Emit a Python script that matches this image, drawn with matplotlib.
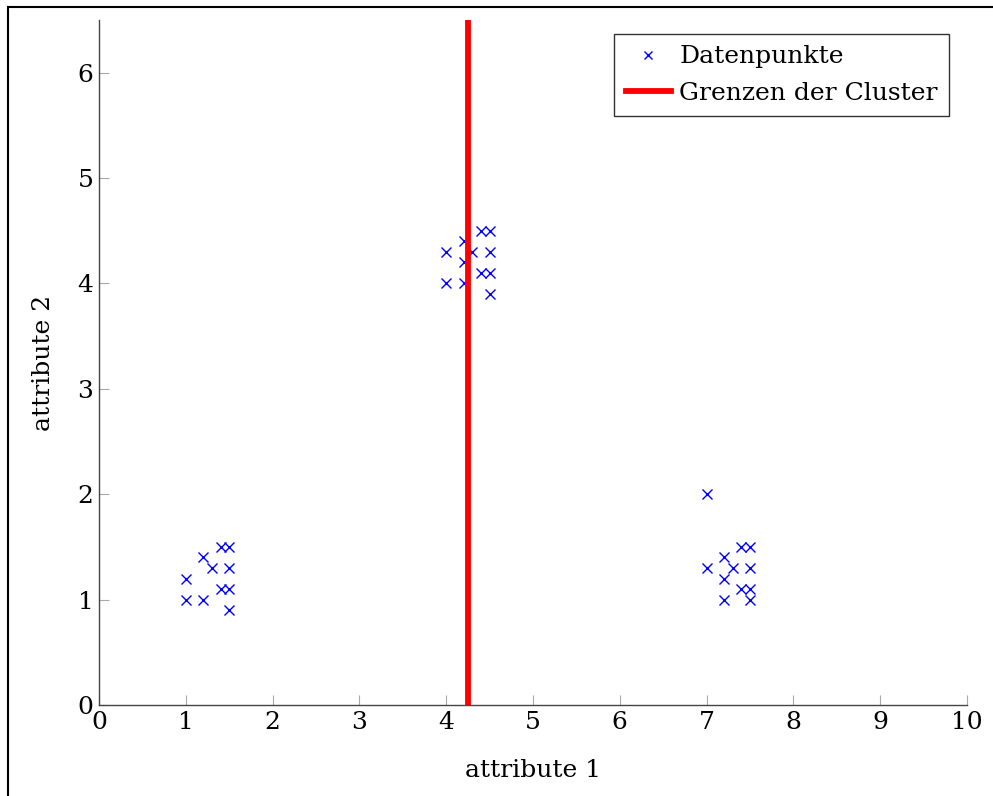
import matplotlib
matplotlib.use("Agg")
import matplotlib.pyplot as plt
from matplotlib.lines import Line2D

# data points of the three groups
attr1 = [1.0, 1.0, 1.2, 1.2, 1.3, 1.4, 1.5, 1.4, 1.5, 1.5, 1.5,
         4.4, 4.5, 4.2, 4.0, 4.3, 4.5, 4.2, 4.4, 4.5, 4.0, 4.2, 4.5,
         7.0, 7.4, 7.5, 7.2, 7.0, 7.3, 7.5, 7.2, 7.4, 7.5, 7.2, 7.5]
attr2 = [1.2, 1.0, 1.4, 1.0, 1.3, 1.5, 1.5, 1.1, 1.1, 1.3, 0.9,
         4.5, 4.5, 4.4, 4.3, 4.3, 4.3, 4.2, 4.1, 4.1, 4.0, 4.0, 3.9,
         2.0, 1.5, 1.5, 1.4, 1.3, 1.3, 1.3, 1.2, 1.1, 1.1, 1.0, 1.0]

# cluster boundary
boundary_x = 4.25

plt.rcParams['font.family'] = ['DejaVu Serif']
plt.rcParams['font.size'] = 18

fig = plt.figure(figsize=(9.93, 7.96), dpi=100)
ax = fig.add_axes([99/993, 1-705/796, (967-99)/993, (705-20)/796])

ax.plot(attr1, attr2, 'x', color='blue', markersize=7.5, markeredgewidth=1.0,
        label='Datenpunkte')
ax.plot([boundary_x, boundary_x], [0, 6.5], color='red', linewidth=4.2,
        label='Grenzen der Cluster')

ax.set_xlim(0, 10)
ax.set_ylim(0, 6.5)
ax.set_xticks(range(0, 11))
ax.set_yticks(range(0, 7))

for side in ['top', 'right']:
    ax.spines[side].set_visible(False)
for side in ['left', 'bottom']:
    ax.spines[side].set_color('#444444')
    ax.spines[side].set_linewidth(1.0)

ax.tick_params(direction='in', length=7, color='#aaaaaa', width=0.8,
               labelsize=18, pad=4)

ax.set_xlabel('attribute 1', fontsize=18, labelpad=18)
ax.set_ylabel('attribute 2', fontsize=18, labelpad=16)

leg = ax.legend(loc='upper right', bbox_to_anchor=(949/993, 1-34/796),
                bbox_transform=fig.transFigure, borderaxespad=0,
                fancybox=False, edgecolor='#333333', framealpha=1,
                fontsize=18, handlelength=1.8, handletextpad=0.35,
                borderpad=0.45, labelspacing=0.55, markerscale=0.8)
leg.get_frame().set_linewidth(1.0)

# outer frame lines
fig.add_artist(Line2D([8/993, 8/993], [0, 1-7/796], color='black', linewidth=1.5,
                      transform=fig.transFigure))
fig.add_artist(Line2D([8/993, 1], [1-7/796, 1-7/796], color='black', linewidth=1.5,
                      transform=fig.transFigure))

fig.savefig('out.png', dpi=100)
